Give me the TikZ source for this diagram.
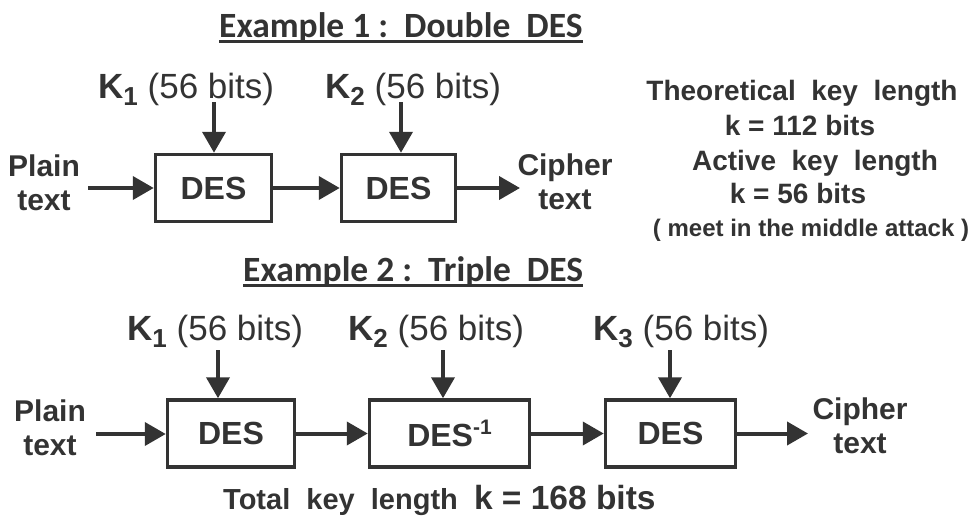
\documentclass[tikz,border=0pt]{standalone}
\usepackage{fontspec}
\setmainfont{Liberation Sans}
\newfontfamily\titlefont{Carlito}
\usetikzlibrary{arrows.meta}
\definecolor{ink}{HTML}{333333}
\newcommand{\keytext}[1]{\textbf{K}\raisebox{-7pt}{\fontsize{26}{26}\selectfont\bfseries #1}\ (56 bits)}
\begin{document}
\begin{tikzpicture}[x=1pt,y=-1pt,
  cipherbox/.style={draw=ink, line width=3.5pt, minimum width=#1, minimum height=67pt,
    inner sep=0pt, text=ink, font=\fontsize{32}{36}\selectfont\bfseries},
  flow/.style={draw=ink, line width=4pt, -{Triangle[length=21pt,width=23pt]}},
  keylabel/.style={anchor=base west, inner sep=0pt, text=ink, font=\fontsize{35}{38}\selectfont},
  io/.style={align=center, inner sep=0pt, text=ink, font=\fontsize{30}{34}\selectfont\bfseries},
  note/.style={inner sep=0pt, text=ink, font=\fontsize{28}{32}\selectfont\bfseries},
  heading/.style={anchor=base west, inner sep=0pt, text=ink, font=\titlefont\bfseries\fontsize{35.5}{38}\selectfont},
  rule/.style={draw=ink, line width=3pt}]
\path[use as bounding box] (0,0) rectangle (975,517);

% ---------- Example 1: Double DES ----------
\node[heading] (t1) at (219,37) {Example 1 :\ \ Double\ \ DES};
\draw[rule] ([yshift=-4pt]t1.base west) -- ([yshift=-4pt]t1.base east);

\node[cipherbox=116pt] (d1) at (213.5,188) {DES};
\node[cipherbox=114pt] (d2) at (398.5,188) {DES};

\node[keylabel] (k1) at (98,98) {\keytext{1}};
\node[keylabel] (k2) at (325,98) {\keytext{2}};
\coordinate (k1s) at (214,102);
\coordinate (k2s) at (401,102);
\draw[flow] (k1s) -- (k1s |- d1.north);
\draw[flow] (k2s) -- (k2s |- d2.north);

\node[io] (p1) at (44,183) {Plain\\text};
\node[io] (c1) at (565,182) {Cipher\\text};
\coordinate (p1s) at (88,188);
\coordinate (c1e) at (520,188);
\draw[flow] (p1s) -- (d1.west);
\draw[flow] (d1.east) -- (d2.west);
\draw[flow] (d2.east) -- (c1e);

\node[note] (r1) at (802,93) {Theoretical\ \ key\ \ length};
\node[note] (r2) at (800,125) {k = 112 bits};
\node[note] (r3) at (815,163) {Active\ \ key\ \ length};
\node[note] (r4) at (798,193) {k = 56 bits};
\node[note, font=\fontsize{24}{28}\selectfont\bfseries] (r5) at (811,230) {( meet in the middle attack )};

% ---------- Example 2: Triple DES ----------
\node[heading] (t2) at (243,281) {Example 2 :\ \ Triple\ \ DES};
\draw[rule] ([yshift=-4pt]t2.base west) -- ([yshift=-4pt]t2.base east);

\node[cipherbox=127pt] (b1) at (231,433.5) {DES};
\node[cipherbox=160pt] (b2) at (449.5,433.5) {DES\raisebox{12pt}{\fontsize{21}{21}\selectfont\bfseries -1}};
\node[cipherbox=130pt] (b3) at (670.5,433.5) {DES};

\node[keylabel] (q1) at (127,340) {\keytext{1}};
\node[keylabel] (q2) at (348,340) {\keytext{2}};
\node[keylabel] (q3) at (593,340) {\keytext{3}};
\coordinate (q1s) at (218,350);
\coordinate (q2s) at (443,350);
\coordinate (q3s) at (670,350);
\draw[flow] (q1s) -- (q1s |- b1.north);
\draw[flow] (q2s) -- (q2s |- b2.north);
\draw[flow] (q3s) -- (q3s |- b3.north);

\node[io] (p2) at (50,428) {Plain\\text};
\node[io] (c2) at (860,426) {Cipher\\text};
\coordinate (p2s) at (96,434);
\coordinate (c2e) at (808,433.5);
\draw[flow] (p2s) -- (p2s -| b1.west);
\draw[flow] (b1.east) -- (b2.west);
\draw[flow] (b2.east) -- (b3.west);
\draw[flow] (b3.east) -- (c2e);

\node[anchor=base west, inner sep=0pt, text=ink, font=\bfseries] (tot) at (223,509)
  {\fontsize{29}{32}\selectfont Total\ \ key\ \ length\ \ \fontsize{33.5}{36}\selectfont k = 168 bits};
\end{tikzpicture}
\end{document}
